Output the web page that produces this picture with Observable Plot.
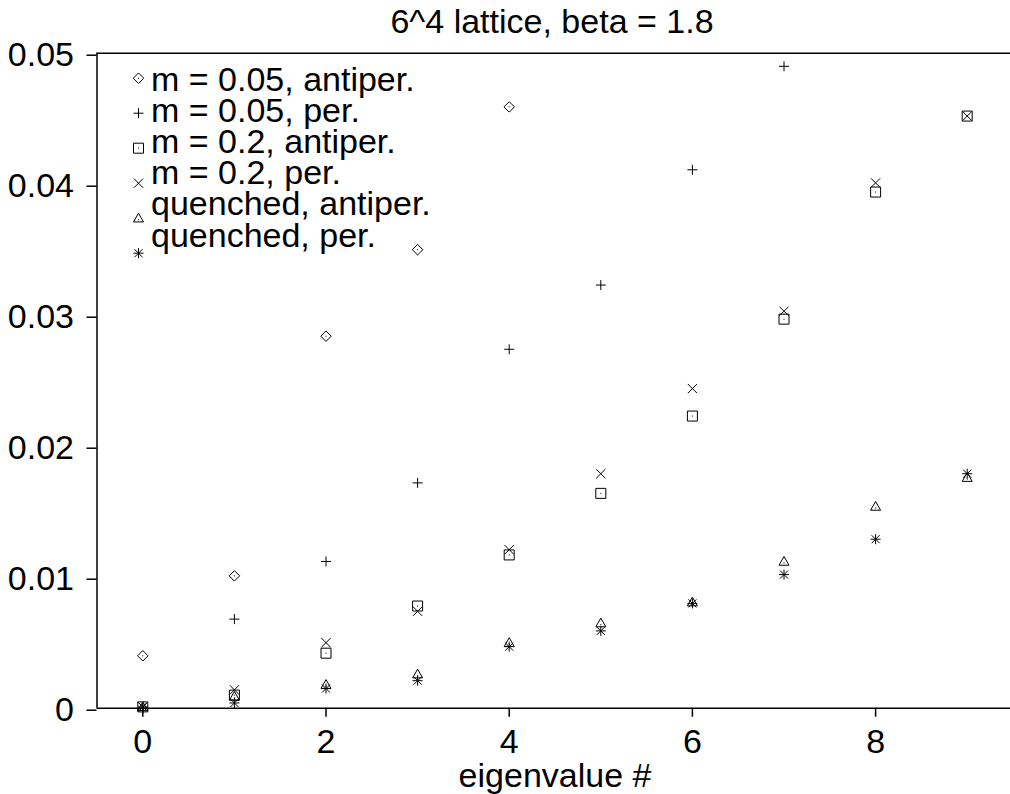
<!DOCTYPE html>
<html><head><meta charset="utf-8">
<script src="https://cdn.jsdelivr.net/npm/d3@7"></script>
<script src="https://cdn.jsdelivr.net/npm/@observablehq/plot@0.6"></script>
<style>html,body{margin:0;padding:0;background:#fff;overflow:hidden;}</style>
</head><body><div id="chart"></div>
<script>
// ---- data ----
const titleText = "6^4 lattice, beta = 1.8";
const xLabel = "eigenvalue #";
const xDomain = [-0.5, 9.5];
const yDomain = [0, 0.05];
const xTicks = [0, 2, 4, 6, 8];
const yTicks = [0, 0.01, 0.02, 0.03, 0.04, 0.05];
const yTickLabels = ["0", "0.01", "0.02", "0.03", "0.04", "0.05"];
const seriesLabels = ["m = 0.05, antiper.", "m = 0.05, per.", "m = 0.2, antiper.", "m = 0.2, per.", "quenched, antiper.", "quenched, per."];
const m005Antiper = [0.0040, 0.0101, 0.0284, 0.0350, 0.0459];
const m005Per = [0.0000, 0.0068, 0.0112, 0.0172, 0.0274, 0.0323, 0.0411, 0.0490];
const m02Antiper = [0.0001, 0.0010, 0.0042, 0.0078, 0.0117, 0.0164, 0.0223, 0.0297, 0.0394, 0.0452];
const m02Per = [0.0001, 0.0014, 0.0050, 0.0074, 0.0121, 0.0179, 0.0244, 0.0303, 0.0401, 0.0452];
const quenchedAntiper = [0.0001, 0.0009, 0.0018, 0.0026, 0.0050, 0.0065, 0.0081, 0.0112, 0.0154, 0.0176];
const quenchedPer = [0.0001, 0.0004, 0.0015, 0.0021, 0.0047, 0.0059, 0.0080, 0.0102, 0.0129, 0.0179];

// ---- gnuplot-like point symbols ----
const rad = (size) => Math.sqrt(size / Math.PI);
const dot = (c, x = 0, y = 0) => { c.moveTo(x - 0.5, y); c.lineTo(x + 0.5, y); };
const gpDiamond = {draw(c, s) { const r = rad(s) * 1.05; c.moveTo(0, -r); c.lineTo(r, 0); c.lineTo(0, r); c.lineTo(-r, 0); c.closePath(); dot(c); }};
const gpPlus = {draw(c, s) { const r = rad(s); c.moveTo(-r, 0); c.lineTo(r, 0); c.moveTo(0, -r); c.lineTo(0, r); }};
const gpSquare = {draw(c, s) { const r = rad(s); c.moveTo(-r, -r); c.lineTo(r, -r); c.lineTo(r, r); c.lineTo(-r, r); c.closePath(); dot(c); }};
const gpTimes = {draw(c, s) { const r = rad(s) * 0.92; c.moveTo(-r, -r); c.lineTo(r, r); c.moveTo(r, -r); c.lineTo(-r, r); }};
const gpTriangle = {draw(c, s) { const r = rad(s); c.moveTo(0, -r); c.lineTo(r, r * 0.75); c.lineTo(-r, r * 0.75); c.closePath(); dot(c, 0, r * 0.3); }};
const gpStar = {draw(c, s) { const r = rad(s); const q = r * 0.8; c.moveTo(-r, 0); c.lineTo(r, 0); c.moveTo(0, -r); c.lineTo(0, r); c.moveTo(-q, -q); c.lineTo(q, q); c.moveTo(q, -q); c.lineTo(-q, q); }};

const seriesValues = [m005Antiper, m005Per, m02Antiper, m02Per, quenchedAntiper, quenchedPer];
const seriesSymbols = [gpDiamond, gpPlus, gpSquare, gpTimes, gpTriangle, gpStar];

const marks = [];
// frame lines
marks.push(Plot.ruleY(yDomain, {stroke: "black", strokeWidth: 1.5}));
marks.push(Plot.ruleX([xDomain[0]], {stroke: "black", strokeWidth: 1.5}));
// axes
marks.push(Plot.axisY({ticks: yTicks, tickFormat: d => yTickLabels[yTicks.indexOf(d)], tickSize: 10, tickPadding: 13, label: null, strokeWidth: 1.5, dy: 2}));
marks.push(Plot.axisX({ticks: xTicks, tickSize: 9, tickPadding: 12, label: null, strokeWidth: 1.5}));
// data points
seriesValues.forEach((vals, k) => {
  const data = vals.map((v, i) => ({i, v}));
  marks.push(Plot.dot(data, {x: "i", y: "v", r: 5, symbol: seriesSymbols[k], fill: "none", stroke: "black", strokeWidth: 1}));
});
// legend
seriesLabels.forEach((lab, k) => {
  marks.push(Plot.dot([lab], {frameAnchor: "top-left", dx: 41.5, dy: 25 + 35 * k, r: 5, symbol: seriesSymbols[k], fill: "none", stroke: "black", strokeWidth: 1}));
  marks.push(Plot.text([lab], {frameAnchor: "top-left", text: d => d, dx: 54, dy: 37.3 + 31.2 * k, textAnchor: "start", lineAnchor: "bottom", fill: "black"}));
});
// title and x label
marks.push(Plot.text([titleText], {frameAnchor: "top", text: d => d, dx: -3, dy: -20.7, lineAnchor: "bottom", fill: "black"}));
marks.push(Plot.text([xLabel], {frameAnchor: "bottom", text: d => d, dx: 0, dy: 79, lineAnchor: "bottom", fill: "black"}));

const chart = Plot.plot({
  width: 1013,
  height: 794,
  marginLeft: 96.5,
  marginRight: 0.5,
  marginTop: 52.7,
  marginBottom: 86.3,
  x: {domain: xDomain},
  y: {domain: yDomain},
  style: {fontFamily: "'Liberation Sans', Arial, sans-serif", fontSize: "34px", color: "black", background: "white", overflow: "visible", maxWidth: "none"},
  marks
});
document.getElementById("chart").appendChild(chart);
</script>
</body></html>
